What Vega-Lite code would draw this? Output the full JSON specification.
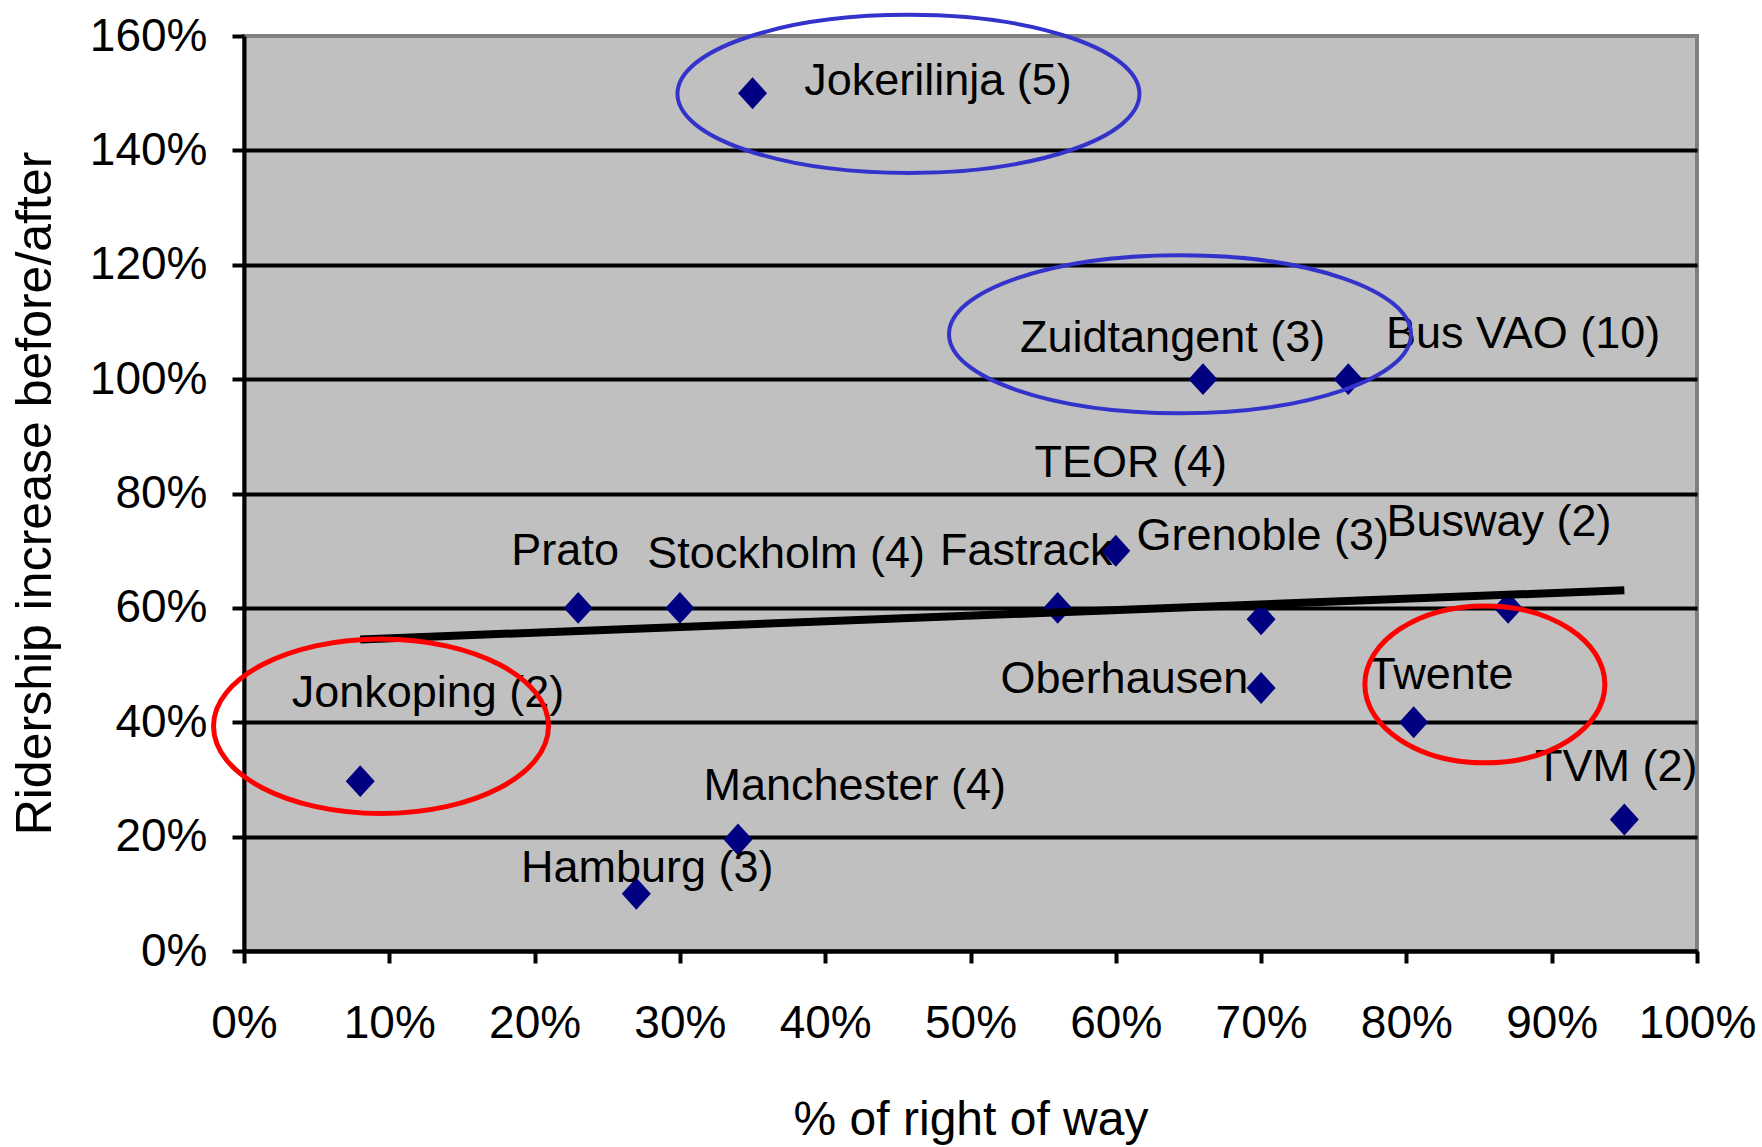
{
  "$schema": "https://vega.github.io/schema/vega-lite/v6.json",
  "autosize": {"type": "none"},
  "width": 1453,
  "height": 915,
  "padding": {"left": 244, "top": 36, "right": 65, "bottom": 196},
  "background": "white",
  "datasets": {
    "sites": [
      {"site": "Jokerilinja (5)", "row": 0.35, "gain": 1.50, "lx": 0.3856, "ly": 1.4967},
      {"site": "Zuidtangent (3)", "row": 0.66, "gain": 1.00, "lx": 0.5341, "ly": 1.0476},
      {"site": "Bus VAO (10)", "row": 0.76, "gain": 1.00, "lx": 0.786, "ly": 1.054},
      {"site": "Prato", "row": 0.23, "gain": 0.60, "lx": 0.184, "ly": 0.6744},
      {"site": "Stockholm (4)", "row": 0.30, "gain": 0.60, "lx": 0.2776, "ly": 0.670},
      {"site": "Fastrack", "row": 0.56, "gain": 0.60, "lx": 0.479, "ly": 0.675},
      {"site": "Grenoble (3)", "row": 0.60, "gain": 0.70, "lx": 0.6142, "ly": 0.7007},
      {"site": "TEOR (4)", "row": 0.70, "gain": 0.58, "lx": 0.544, "ly": 0.8293},
      {"site": "Oberhausen", "row": 0.70, "gain": 0.46, "lx": 0.5207, "ly": 0.451},
      {"site": "Busway (2)", "row": 0.87, "gain": 0.60, "lx": 0.7863, "ly": 0.7252},
      {"site": "Twente", "row": 0.805, "gain": 0.40, "lx": 0.7738, "ly": 0.4575},
      {"site": "TVM (2)", "row": 0.95, "gain": 0.23, "lx": 0.8885, "ly": 0.297},
      {"site": "Jonkoping (2)", "row": 0.08, "gain": 0.297, "lx": 0.0328, "ly": 0.4274},
      {"site": "Manchester (4)", "row": 0.34, "gain": 0.195, "lx": 0.3162, "ly": 0.2633},
      {"site": "Hamburg (3)", "row": 0.27, "gain": 0.10, "lx": 0.1906, "ly": 0.1207}
    ],
    "rings": [
      {"ring": "Jokerilinja", "row": 0.4573, "gain": 1.4988},
      {"ring": "Zuidtangent", "row": 0.6442, "gain": 1.0786},
      {"ring": "Jonkoping", "row": 0.0943, "gain": 0.393},
      {"ring": "Twente", "row": 0.854, "gain": 0.4662}
    ]
  },
  "layer": [
    {
      "data": {"name": "sites"},
      "mark": {"type": "point", "shape": "M0,-1.1L1,0L0,1.1L-1,0Z", "filled": true, "color": "#000080", "opacity": 1, "size": 841},
      "encoding": {
        "x": {
          "field": "row", "type": "quantitative",
          "scale": {"domain": [0, 1], "nice": false, "zero": false},
          "axis": {
            "title": "% of right of way",
            "values": [0, 0.1, 0.2, 0.3, 0.4, 0.5, 0.6, 0.7, 0.8, 0.9, 1],
            "format": ".0%",
            "grid": false,
            "labelPadding": 38,
            "titleFontSize": 48,
            "titleX": 726.5,
            "titleY": 183.5,
            "titleBaseline": "alphabetic",
            "titleAlign": "center"
          }
        },
        "y": {
          "field": "gain", "type": "quantitative",
          "scale": {"domain": [0, 1.6], "nice": false, "zero": false},
          "axis": {
            "title": "Ridership increase before/after",
            "values": [0, 0.2, 0.4, 0.6, 0.8, 1, 1.2, 1.4, 1.6],
            "format": ".0%",
            "grid": true,
            "gridOpacity": {"condition": {"test": "datum.value >= 1.59", "value": 0}, "value": 1},
            "labelPadding": 25,
            "titleFontSize": 50,
            "titleAngle": 270,
            "titleX": -194,
            "titleY": 457,
            "titleBaseline": "alphabetic",
            "titleAlign": "center"
          }
        }
      }
    },
    {
      "data": {"name": "sites"},
      "transform": [{"regression": "gain", "on": "row"}],
      "mark": {"type": "line", "color": "black", "strokeWidth": 8},
      "encoding": {
        "x": {"field": "row", "type": "quantitative", "scale": {"domain": [0, 1], "nice": false, "zero": false}},
        "y": {"field": "gain", "type": "quantitative", "scale": {"domain": [0, 1.6], "nice": false, "zero": false}}
      }
    },
    {
      "data": {"name": "sites"},
      "mark": {"type": "text", "align": "left", "baseline": "alphabetic", "fontSize": 45, "font": "Liberation Sans", "color": "black"},
      "encoding": {
        "x": {"field": "lx", "type": "quantitative", "scale": {"domain": [0, 1], "nice": false, "zero": false}},
        "y": {"field": "ly", "type": "quantitative", "scale": {"domain": [0, 1.6], "nice": false, "zero": false}},
        "text": {"field": "site", "type": "nominal"}
      }
    },
    {
      "data": {"name": "rings"},
      "transform": [{"filter": {"field": "ring", "oneOf": ["Jokerilinja", "Zuidtangent"]}}],
      "mark": {
        "type": "point", "filled": false, "stroke": "#3333CC", "strokeWidth": 4, "opacity": 1, "size": 213444,
        "shape": "M-1,0C-1,-0.1889,-0.5523,-0.342,0,-0.342C0.5523,-0.342,1,-0.1889,1,0C1,0.1889,0.5523,0.342,0,0.342C-0.5523,0.342,-1,0.1889,-1,0Z"
      },
      "encoding": {
        "x": {"field": "row", "type": "quantitative", "scale": {"domain": [0, 1], "nice": false, "zero": false}},
        "y": {"field": "gain", "type": "quantitative", "scale": {"domain": [0, 1.6], "nice": false, "zero": false}}
      }
    },
    {
      "data": {"name": "rings"},
      "transform": [{"filter": {"field": "ring", "equal": "Jonkoping"}}],
      "mark": {
        "type": "point", "filled": false, "stroke": "#FF0000", "strokeWidth": 5, "opacity": 1, "size": 112225,
        "shape": "M-1,0C-1,-0.2877,-0.5523,-0.521,0,-0.521C0.5523,-0.521,1,-0.2877,1,0C1,0.2877,0.5523,0.521,0,0.521C-0.5523,0.521,-1,0.2877,-1,0Z"
      },
      "encoding": {
        "x": {"field": "row", "type": "quantitative", "scale": {"domain": [0, 1], "nice": false, "zero": false}},
        "y": {"field": "gain", "type": "quantitative", "scale": {"domain": [0, 1.6], "nice": false, "zero": false}}
      }
    },
    {
      "data": {"name": "rings"},
      "transform": [{"filter": {"field": "ring", "equal": "Twente"}}],
      "mark": {
        "type": "point", "filled": false, "stroke": "#FF0000", "strokeWidth": 5, "opacity": 1, "size": 57600,
        "shape": "M-1,0C-1,-0.3612,-0.5523,-0.654,0,-0.654C0.5523,-0.654,1,-0.3612,1,0C1,0.3612,0.5523,0.654,0,0.654C-0.5523,0.654,-1,0.3612,-1,0Z"
      },
      "encoding": {
        "x": {"field": "row", "type": "quantitative", "scale": {"domain": [0, 1], "nice": false, "zero": false}},
        "y": {"field": "gain", "type": "quantitative", "scale": {"domain": [0, 1.6], "nice": false, "zero": false}}
      }
    }
  ],
  "config": {
    "font": "Liberation Sans",
    "view": {"fill": "#C0C0C0", "stroke": "#808080", "strokeWidth": 4},
    "axis": {
      "domainColor": "black",
      "domainWidth": 4,
      "tickColor": "black",
      "tickWidth": 4,
      "tickSize": 12,
      "labelColor": "black",
      "labelFont": "Liberation Sans",
      "labelFontSize": 46,
      "labelFlush": false,
      "labelOverlap": false,
      "titleColor": "black",
      "titleFont": "Liberation Sans",
      "titleFontSize": 46,
      "titleFontWeight": "normal",
      "gridColor": "black",
      "gridWidth": 4
    }
  }
}
